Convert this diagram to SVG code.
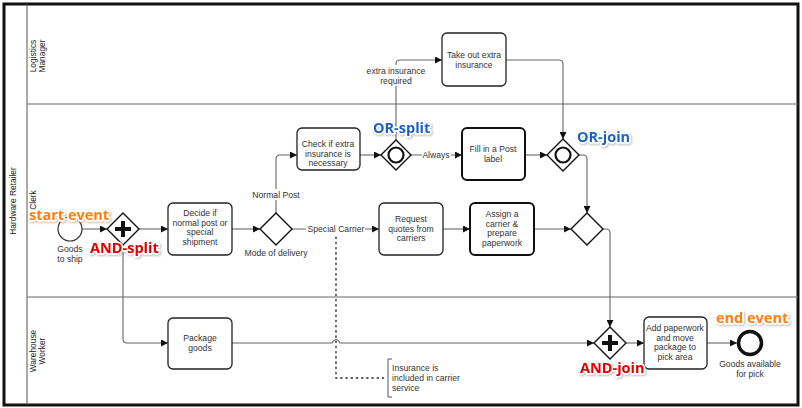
<svg xmlns="http://www.w3.org/2000/svg" width="802" height="408" viewBox="0 0 802 408">
<style>
.t{font-family:"Liberation Sans",Arial,sans-serif;font-size:8.6px;fill:#333;text-anchor:middle}
.lane{font-family:"Liberation Sans",Arial,sans-serif;font-size:8.4px;fill:#222;text-anchor:middle}
.task{fill:#fff;stroke:#222;stroke-width:1.3}
.task2{fill:#fff;stroke:#111;stroke-width:2}
.gw{fill:#fff;stroke:#111;stroke-width:1.4}
.c{fill:none;stroke:#666;stroke-width:1.1}
.lbl{fill:#fff}
.ann{font-family:"Open Sans","DejaVu Sans",sans-serif;font-weight:bold;font-size:14.5px;stroke:#fff;stroke-width:3.5;paint-order:stroke;stroke-linejoin:round}
</style>
<defs>
<marker id="ah" viewBox="0 0 10 10" refX="10" refY="5" markerWidth="7" markerHeight="7" orient="auto" markerUnits="userSpaceOnUse">
<path d="M0,0 L10,5 L0,10 z" fill="#111"/>
</marker>
<filter id="sh" x="-10%" y="-30%" width="130%" height="160%">
<feDropShadow dx="1" dy="1" stdDeviation="0.8" flood-color="#888" flood-opacity="0.6"/>
</filter>
</defs>
<rect x="0" y="0" width="802" height="408" fill="#fff"/>
<g id="pool">
<rect x="4" y="4" width="794" height="401" fill="#fff" stroke="#111" stroke-width="3"/>
<line x1="27" y1="4" x2="27" y2="405" stroke="#555" stroke-width="1"/>
<line x1="27" y1="104" x2="798" y2="104" stroke="#666" stroke-width="1"/>
<line x1="27" y1="297" x2="798" y2="297" stroke="#666" stroke-width="1"/>
<text class="lane" transform="translate(16,201) rotate(-90)">Hardware Retailer</text>
<text class="lane" transform="translate(36,56) rotate(-90)"><tspan x="0" dy="0">Logistics</tspan><tspan x="0" dy="8.5">Manager</tspan></text>
<text class="lane" transform="translate(36,200) rotate(-90)">Clerk</text>
<text class="lane" transform="translate(36,351) rotate(-90)"><tspan x="0" dy="0">Warehouse</tspan><tspan x="0" dy="8.5">Worker</tspan></text>
</g>
<g id="connectors">
<line class="c" x1="82" y1="229" x2="107" y2="229" marker-end="url(#ah)"/>
<line class="c" x1="139" y1="229" x2="168" y2="229" marker-end="url(#ah)"/>
<line class="c" x1="232" y1="229" x2="260" y2="229" marker-end="url(#ah)"/>
<path class="c" d="M276,213 V159 Q276,155 280,155 H297" marker-end="url(#ah)"/>
<line class="c" x1="360" y1="155" x2="381" y2="155" marker-end="url(#ah)"/>
<path class="c" d="M396,140 V64 Q396,60 400,60 H442" marker-end="url(#ah)"/>
<line class="c" x1="411" y1="155" x2="462" y2="155" marker-end="url(#ah)"/>
<path class="c" d="M506,60 H559 Q563,60 563,64 V139" marker-end="url(#ah)"/>
<line class="c" x1="525" y1="155" x2="547" y2="155" marker-end="url(#ah)"/>
<path class="c" d="M579,155 H583 Q587,155 587,159 V213" marker-end="url(#ah)"/>
<line class="c" x1="292" y1="229" x2="379" y2="229" marker-end="url(#ah)"/>
<line class="c" x1="443" y1="229" x2="470" y2="229" marker-end="url(#ah)"/>
<line class="c" x1="534" y1="229" x2="571" y2="229" marker-end="url(#ah)"/>
<path class="c" d="M603,229 H606 Q610,229 610,233 V327" marker-end="url(#ah)"/>
<path class="c" d="M123,245 V339 Q123,343 127,343 H168" marker-end="url(#ah)"/>
<path class="c" d="M232,343 H332 Q336,336 340,343 H594" marker-end="url(#ah)"/>
<line class="c" x1="626" y1="343" x2="644" y2="343" marker-end="url(#ah)"/>
<line class="c" x1="707" y1="343" x2="737" y2="343" marker-end="url(#ah)"/>
<path d="M336,232 V378 H387" fill="none" stroke="#222" stroke-width="1.4" stroke-dasharray="1.2,4" stroke-linecap="round"/>
<rect class="lbl" x="251" y="189" width="50" height="11"/>
<text class="t" x="276" y="198">Normal Post</text>
<rect class="lbl" x="306" y="223" width="59" height="11"/>
<text class="t" x="336" y="232">Special Carrier</text>
<rect class="lbl" x="422" y="149" width="29" height="11"/>
<text class="t" x="436" y="158">Always</text>
<rect class="lbl" x="364" y="65" width="64" height="21"/>
<text class="t" x="396" y="74"><tspan x="396">extra insurance</tspan><tspan x="396" dy="10">required</tspan></text>
</g>
<g id="start">
<circle cx="70" cy="229" r="12" fill="#fff" stroke="#333" stroke-width="1.2"/>
<text class="t" x="70" y="252"><tspan x="70">Goods</tspan><tspan x="70" dy="10">to ship</tspan></text>
</g>
<g id="and-split">
<path class="gw" d="M123,213 L139,229 L123,245 L107,229 z"/>
<path d="M123,221 V237 M115,229 H131" stroke="#111" stroke-width="4"/>
</g>
<g id="decide">
<rect class="task" x="168" y="203" width="64" height="52" rx="5"/>
<text class="t" x="200" y="216"><tspan x="200">Decide if</tspan><tspan x="200" dy="9.7">normal post or</tspan><tspan x="200" dy="9.7">special</tspan><tspan x="200" dy="9.7">shipment</tspan></text>
</g>
<g id="mode">
<path class="gw" d="M276,213 L292,229 L276,245 L260,229 z"/>
<text class="t" x="276" y="256">Mode of delivery</text>
</g>
<g id="check">
<rect class="task" x="297" y="128" width="63" height="42" rx="5"/>
<text class="t" x="328" y="147"><tspan x="328">Check if extra</tspan><tspan x="328" dy="9.7">insurance is</tspan><tspan x="328" dy="9.7">necessary</tspan></text>
</g>
<g id="or-split">
<path class="gw" d="M396,140 L411,155 L396,170 L381,155 z"/>
<circle cx="396" cy="155" r="7.5" fill="none" stroke="#111" stroke-width="2.2"/>
</g>
<g id="take-out">
<rect class="task" x="442" y="33" width="64" height="53" rx="5"/>
<text class="t" x="474" y="58"><tspan x="474">Take out extra</tspan><tspan x="474" dy="10">insurance</tspan></text>
</g>
<g id="fill-post">
<rect class="task2" x="462" y="128" width="63" height="52" rx="5"/>
<text class="t" x="493" y="152"><tspan x="493">Fill in a Post</tspan><tspan x="493" dy="10">label</tspan></text>
</g>
<g id="or-join">
<path class="gw" d="M563,139 L579,155 L563,171 L547,155 z"/>
<circle cx="563" cy="155" r="7.5" fill="none" stroke="#111" stroke-width="2.2"/>
</g>
<g id="request">
<rect class="task" x="379" y="203" width="64" height="52" rx="5"/>
<text class="t" x="411" y="222"><tspan x="411">Request</tspan><tspan x="411" dy="9.7">quotes from</tspan><tspan x="411" dy="9.7">carriers</tspan></text>
</g>
<g id="assign">
<rect class="task2" x="470" y="203" width="64" height="52" rx="5"/>
<text class="t" x="502" y="217"><tspan x="502">Assign a</tspan><tspan x="502" dy="9.7">carrier &amp;</tspan><tspan x="502" dy="9.7">prepare</tspan><tspan x="502" dy="9.7">paperwork</tspan></text>
</g>
<g id="xor-join">
<path class="gw" d="M587,213 L603,229 L587,245 L571,229 z"/>
</g>
<g id="package">
<rect class="task" x="168" y="318" width="64" height="51" rx="5"/>
<text class="t" x="200" y="341"><tspan x="200">Package</tspan><tspan x="200" dy="10">goods</tspan></text>
</g>
<g id="and-join">
<path class="gw" d="M610,327 L626,343 L610,359 L594,343 z"/>
<path d="M610,335 V351 M602,343 H618" stroke="#111" stroke-width="4"/>
</g>
<g id="add-paperwork">
<rect class="task" x="644" y="317" width="63" height="52" rx="5"/>
<text class="t" x="675" y="331"><tspan x="675">Add paperwork</tspan><tspan x="675" dy="9.7">and move</tspan><tspan x="675" dy="9.7">package to</tspan><tspan x="675" dy="9.7">pick area</tspan></text>
</g>
<g id="end">
<circle cx="750" cy="343" r="11.5" fill="#fff" stroke="#111" stroke-width="3.5"/>
<text class="t" x="750" y="367"><tspan x="750">Goods available</tspan><tspan x="750" dy="10">for pick</tspan></text>
</g>
<g id="note">
<path d="M392,359 H388 V397 H392" fill="none" stroke="#555" stroke-width="1"/>
<text class="t" style="text-anchor:start" x="392" y="371"><tspan x="392">Insurance is</tspan><tspan x="392" dy="10">included in carrier</tspan><tspan x="392" dy="10">service</tspan></text>
</g>
<g id="annotations" filter="url(#sh)">
<text class="ann" x="29" y="220" fill="#ff7f0e">start event</text>
<text class="ann" x="90" y="253" fill="#e00000">AND-split</text>
<text class="ann" x="373" y="133" fill="#1f63c0">OR-split</text>
<text class="ann" x="577" y="142" fill="#1f63c0">OR-join</text>
<text class="ann" x="580" y="373" fill="#e00000">AND-join</text>
<text class="ann" x="716" y="323" fill="#ff7f0e">end event</text>
</g>
</svg>
